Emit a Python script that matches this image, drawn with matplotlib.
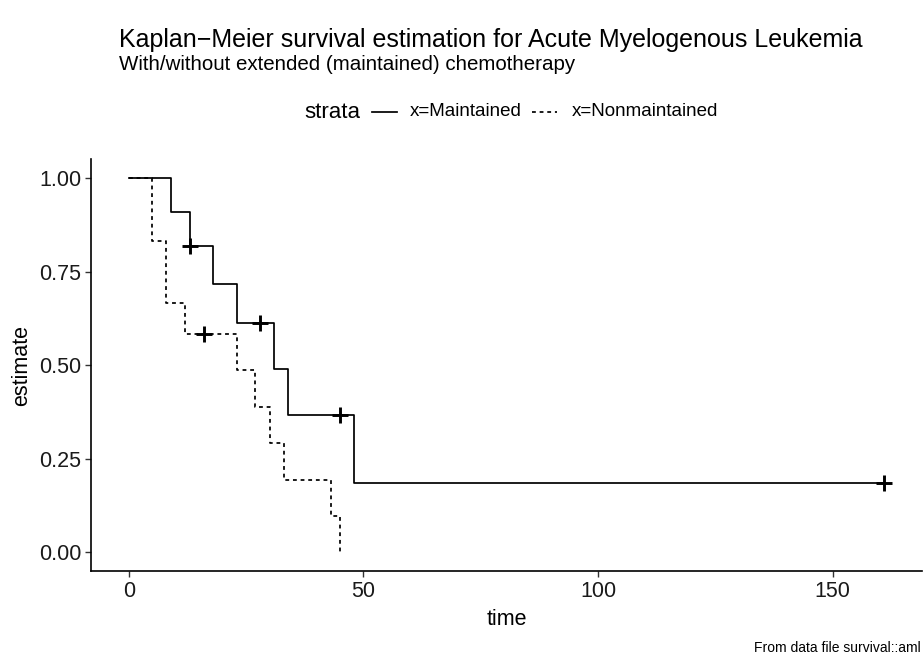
import matplotlib
matplotlib.use("Agg")
import matplotlib.pyplot as plt
from matplotlib.lines import Line2D

plt.rcParams['font.family'] = ['Liberation Sans', 'DejaVu Sans']

# Kaplan-Meier estimates (survival::aml)
maint_time = [0, 9, 13, 18, 23, 28, 31, 34, 45, 48, 161]
maint_est = [1.0, 0.909, 0.818, 0.716, 0.614, 0.614, 0.491, 0.368, 0.368, 0.184, 0.184]
maint_cens_time = [13, 28, 45, 161]
maint_cens_est = [0.818, 0.614, 0.368, 0.184]

non_time = [0, 5, 8, 12, 16, 23, 27, 30, 33, 43, 45]
non_est = [1.0, 0.833, 0.667, 0.583, 0.583, 0.486, 0.389, 0.292, 0.194, 0.0972, 0.0]
non_cens_time = [16]
non_cens_est = [0.583]

x_ticks = [0, 50, 100, 150]
y_ticks = [0.00, 0.25, 0.50, 0.75, 1.00]
y_ticklabels = ["0.00", "0.25", "0.50", "0.75", "1.00"]

fig = plt.figure(figsize=(9.23, 6.57), dpi=100)
ax = fig.add_axes([91/923, 1 - 571/657, (922-91)/923, (571-159.5)/657])

lw = 1.25
dash = (0, (2.2, 2.2))
ax.step(maint_time, maint_est, where='post', color='black', lw=lw)
ax.step(non_time, non_est, where='post', color='black', lw=lw, linestyle=dash)
ax.plot(maint_cens_time, maint_cens_est, linestyle='none', marker='+', color='black',
        markersize=12, markeredgewidth=2.1)
ax.plot(non_cens_time, non_cens_est, linestyle='none', marker='+', color='black',
        markersize=12, markeredgewidth=2.1)

xmin, xmax = 0, 161
pad = 0.05 * (xmax - xmin)
ax.set_xlim(xmin - pad, xmax + pad)
ax.set_ylim(-0.05, 1.05)
ax.set_xticks(x_ticks)
ax.set_yticks(y_ticks)
ax.set_yticklabels(y_ticklabels)

for s in ['top', 'right']:
    ax.spines[s].set_visible(False)
for s in ['left', 'bottom']:
    ax.spines[s].set_linewidth(1.2)
ax.tick_params(axis='both', which='major', length=4, width=1.0, color='#333333',
               labelsize=15.5, labelcolor='#1a1a1a', pad=3)

ax.set_xlabel("time", fontsize=15.5, labelpad=5)
ax.set_ylabel("estimate", fontsize=15.5, labelpad=5)

fig.text(119/923, 1 - 40/657, "Kaplan\u2212Meier survival estimation for Acute Myelogenous Leukemia",
         fontsize=18, ha='left', va='center', color='black')
fig.text(119/923, 1 - 64/657, "With/without extended (maintained) chemotherapy",
         fontsize=14.8, ha='left', va='center', color='black')
fig.text(921/923, 1 - 648/657, "From data file survival::aml",
         fontsize=10, ha='right', va='center', color='black')

# legend at top
ly = 1 - 112/657
fig.text(304/923, ly, "strata", fontsize=16, ha='left', va='center')
fig.add_artist(Line2D([372/923, 397/923], [ly, ly], color='black', lw=lw, transform=fig.transFigure))
fig.text(410/923, ly, "x=Maintained", fontsize=13.5, ha='left', va='center')
fig.add_artist(Line2D([532/923, 557/923], [ly, ly], color='black', lw=lw, linestyle=dash,
                      transform=fig.transFigure))
fig.text(572/923, ly, "x=Nonmaintained", fontsize=13.5, ha='left', va='center')

fig.savefig("out.png", dpi=100)
